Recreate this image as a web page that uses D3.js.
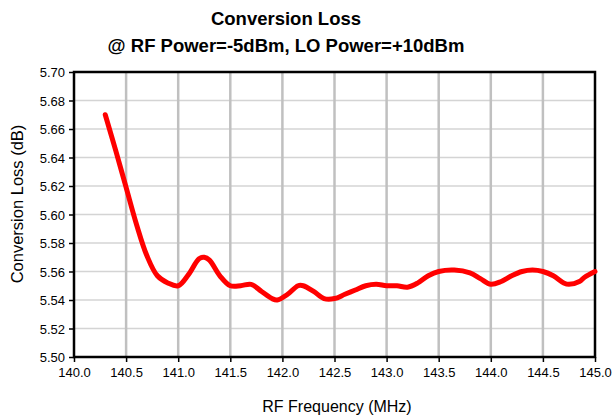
<!DOCTYPE html>
<html>
<head>
<meta charset="utf-8">
<script src="https://cdn.jsdelivr.net/npm/d3@7"></script>
<style>
  body { margin: 0; background: #fff; }
  text { font-family: "Liberation Sans", Arial, sans-serif; fill: #000; }
</style>
</head>
<body>
<div id="chart"></div>
<script>
const WIDTH = 613, HEIGHT = 420;
const MARGIN = { TOP: 72, RIGHT: 18, BOTTOM: 63, LEFT: 74 };
const INNER_WIDTH = WIDTH - MARGIN.LEFT - MARGIN.RIGHT,
    INNER_HEIGHT = HEIGHT - MARGIN.TOP - MARGIN.BOTTOM;

// data
const freq = [140.3, 140.4, 140.5, 140.6, 140.7, 140.8, 140.9, 141.0, 141.1, 141.2,
    141.25, 141.3, 141.4, 141.5, 141.6, 141.7, 141.8, 141.9, 141.95, 142.05,
    142.15, 142.2, 142.3, 142.4, 142.5, 142.6, 142.7, 142.8, 142.9, 143.0,
    143.1, 143.2, 143.3, 143.4, 143.5, 143.65, 143.8, 143.9, 144.0, 144.1,
    144.2, 144.3, 144.4, 144.5, 144.6, 144.7, 144.75, 144.85, 144.9, 145.0];
const loss = [5.670, 5.645, 5.619, 5.593, 5.571, 5.557, 5.552, 5.550, 5.558, 5.569,
    5.570, 5.568, 5.557, 5.550, 5.550, 5.551, 5.546, 5.541, 5.540, 5.544,
    5.550, 5.550, 5.546, 5.541, 5.541, 5.544, 5.547, 5.550, 5.551, 5.550,
    5.550, 5.549, 5.552, 5.557, 5.560, 5.561, 5.559, 5.555, 5.551, 5.553,
    5.557, 5.560, 5.561, 5.560, 5.557, 5.552, 5.551, 5.553, 5.556, 5.560];
const xTicks = [140.0, 140.5, 141.0, 141.5, 142.0, 142.5, 143.0, 143.5, 144.0, 144.5, 145.0];
const yTicks = [5.50, 5.52, 5.54, 5.56, 5.58, 5.60, 5.62, 5.64, 5.66, 5.68, 5.70];
const titleLines = ["Conversion Loss", "@ RF Power=-5dBm, LO Power=+10dBm"];

const data = freq.map((f, i) => ({ f, v: loss[i] }));

const svg = d3.select("#chart").append("svg")
    .attr("width", WIDTH)
    .attr("height", HEIGHT);

const g = svg.append("g")
    .attr("transform", `translate(${MARGIN.LEFT}, ${MARGIN.TOP})`);

const xScale = d3.scaleLinear().domain([140, 145]).range([0, INNER_WIDTH]);
const yScale = d3.scaleLinear().domain([5.5, 5.7]).range([INNER_HEIGHT, 0]);

// gridlines
g.selectAll(".hgrid")
    .data(yTicks.slice(1, -1))
    .join("line")
    .attr("x1", 0).attr("x2", INNER_WIDTH)
    .attr("y1", d => yScale(d)).attr("y2", d => yScale(d))
    .attr("stroke", "#d4d4d4")
    .attr("stroke-width", 1.5);

g.selectAll(".vgrid")
    .data(xTicks.slice(1, -1))
    .join("line")
    .attr("y1", 0).attr("y2", INNER_HEIGHT)
    .attr("x1", d => xScale(d)).attr("x2", d => xScale(d))
    .attr("stroke", "#c0c0c0")
    .attr("stroke-width", 2.5);

// axes
const xAxis = g.append("g")
    .attr("transform", `translate(0, ${INNER_HEIGHT})`)
    .call(d3.axisBottom(xScale).tickValues(xTicks).tickFormat(d3.format(".1f")).tickSize(5).tickSizeOuter(0));
const yAxis = g.append("g")
    .call(d3.axisLeft(yScale).tickValues(yTicks).tickFormat(d3.format(".2f")).tickSize(5).tickSizeOuter(0));

[xAxis, yAxis].forEach(a => {
    a.select(".domain").remove();
    a.selectAll("line").attr("stroke", "#000").attr("stroke-width", 1.5);
    a.selectAll("text").style("font-size", "13px").attr("fill", "#000");
});
xAxis.selectAll("text").attr("dy", "0.95em");
yAxis.selectAll("text").attr("dx", "-1px").attr("dy", "0.35em");

// plot border
g.append("rect")
    .attr("width", INNER_WIDTH)
    .attr("height", INNER_HEIGHT)
    .attr("fill", "none")
    .attr("stroke", "#000")
    .attr("stroke-width", 2.5);

// line
const line = d3.line()
    .x(d => xScale(d.f))
    .y(d => yScale(d.v))
    .curve(d3.curveCatmullRom.alpha(0.5));

g.append("path")
    .datum(data)
    .attr("fill", "none")
    .attr("stroke", "#ff0000")
    .attr("stroke-width", 5)
    .attr("stroke-linecap", "round")
    .attr("stroke-linejoin", "round")
    .attr("d", line);

// titles
svg.selectAll(".title")
    .data(titleLines)
    .join("text")
    .attr("x", 286)
    .attr("y", (d, i) => 25 + i * 27)
    .attr("text-anchor", "middle")
    .style("font-size", "18.5px")
    .style("font-weight", "bold")
    .text(d => d);

svg.append("text")
    .attr("x", 337)
    .attr("y", 412)
    .attr("text-anchor", "middle")
    .style("font-size", "16px")
    .text("RF Frequency (MHz)");

svg.append("text")
    .attr("transform", "rotate(-90)")
    .attr("x", -204)
    .attr("y", 23)
    .attr("text-anchor", "middle")
    .style("font-size", "16.5px")
    .text("Conversion Loss (dB)");
</script>
</body>
</html>
